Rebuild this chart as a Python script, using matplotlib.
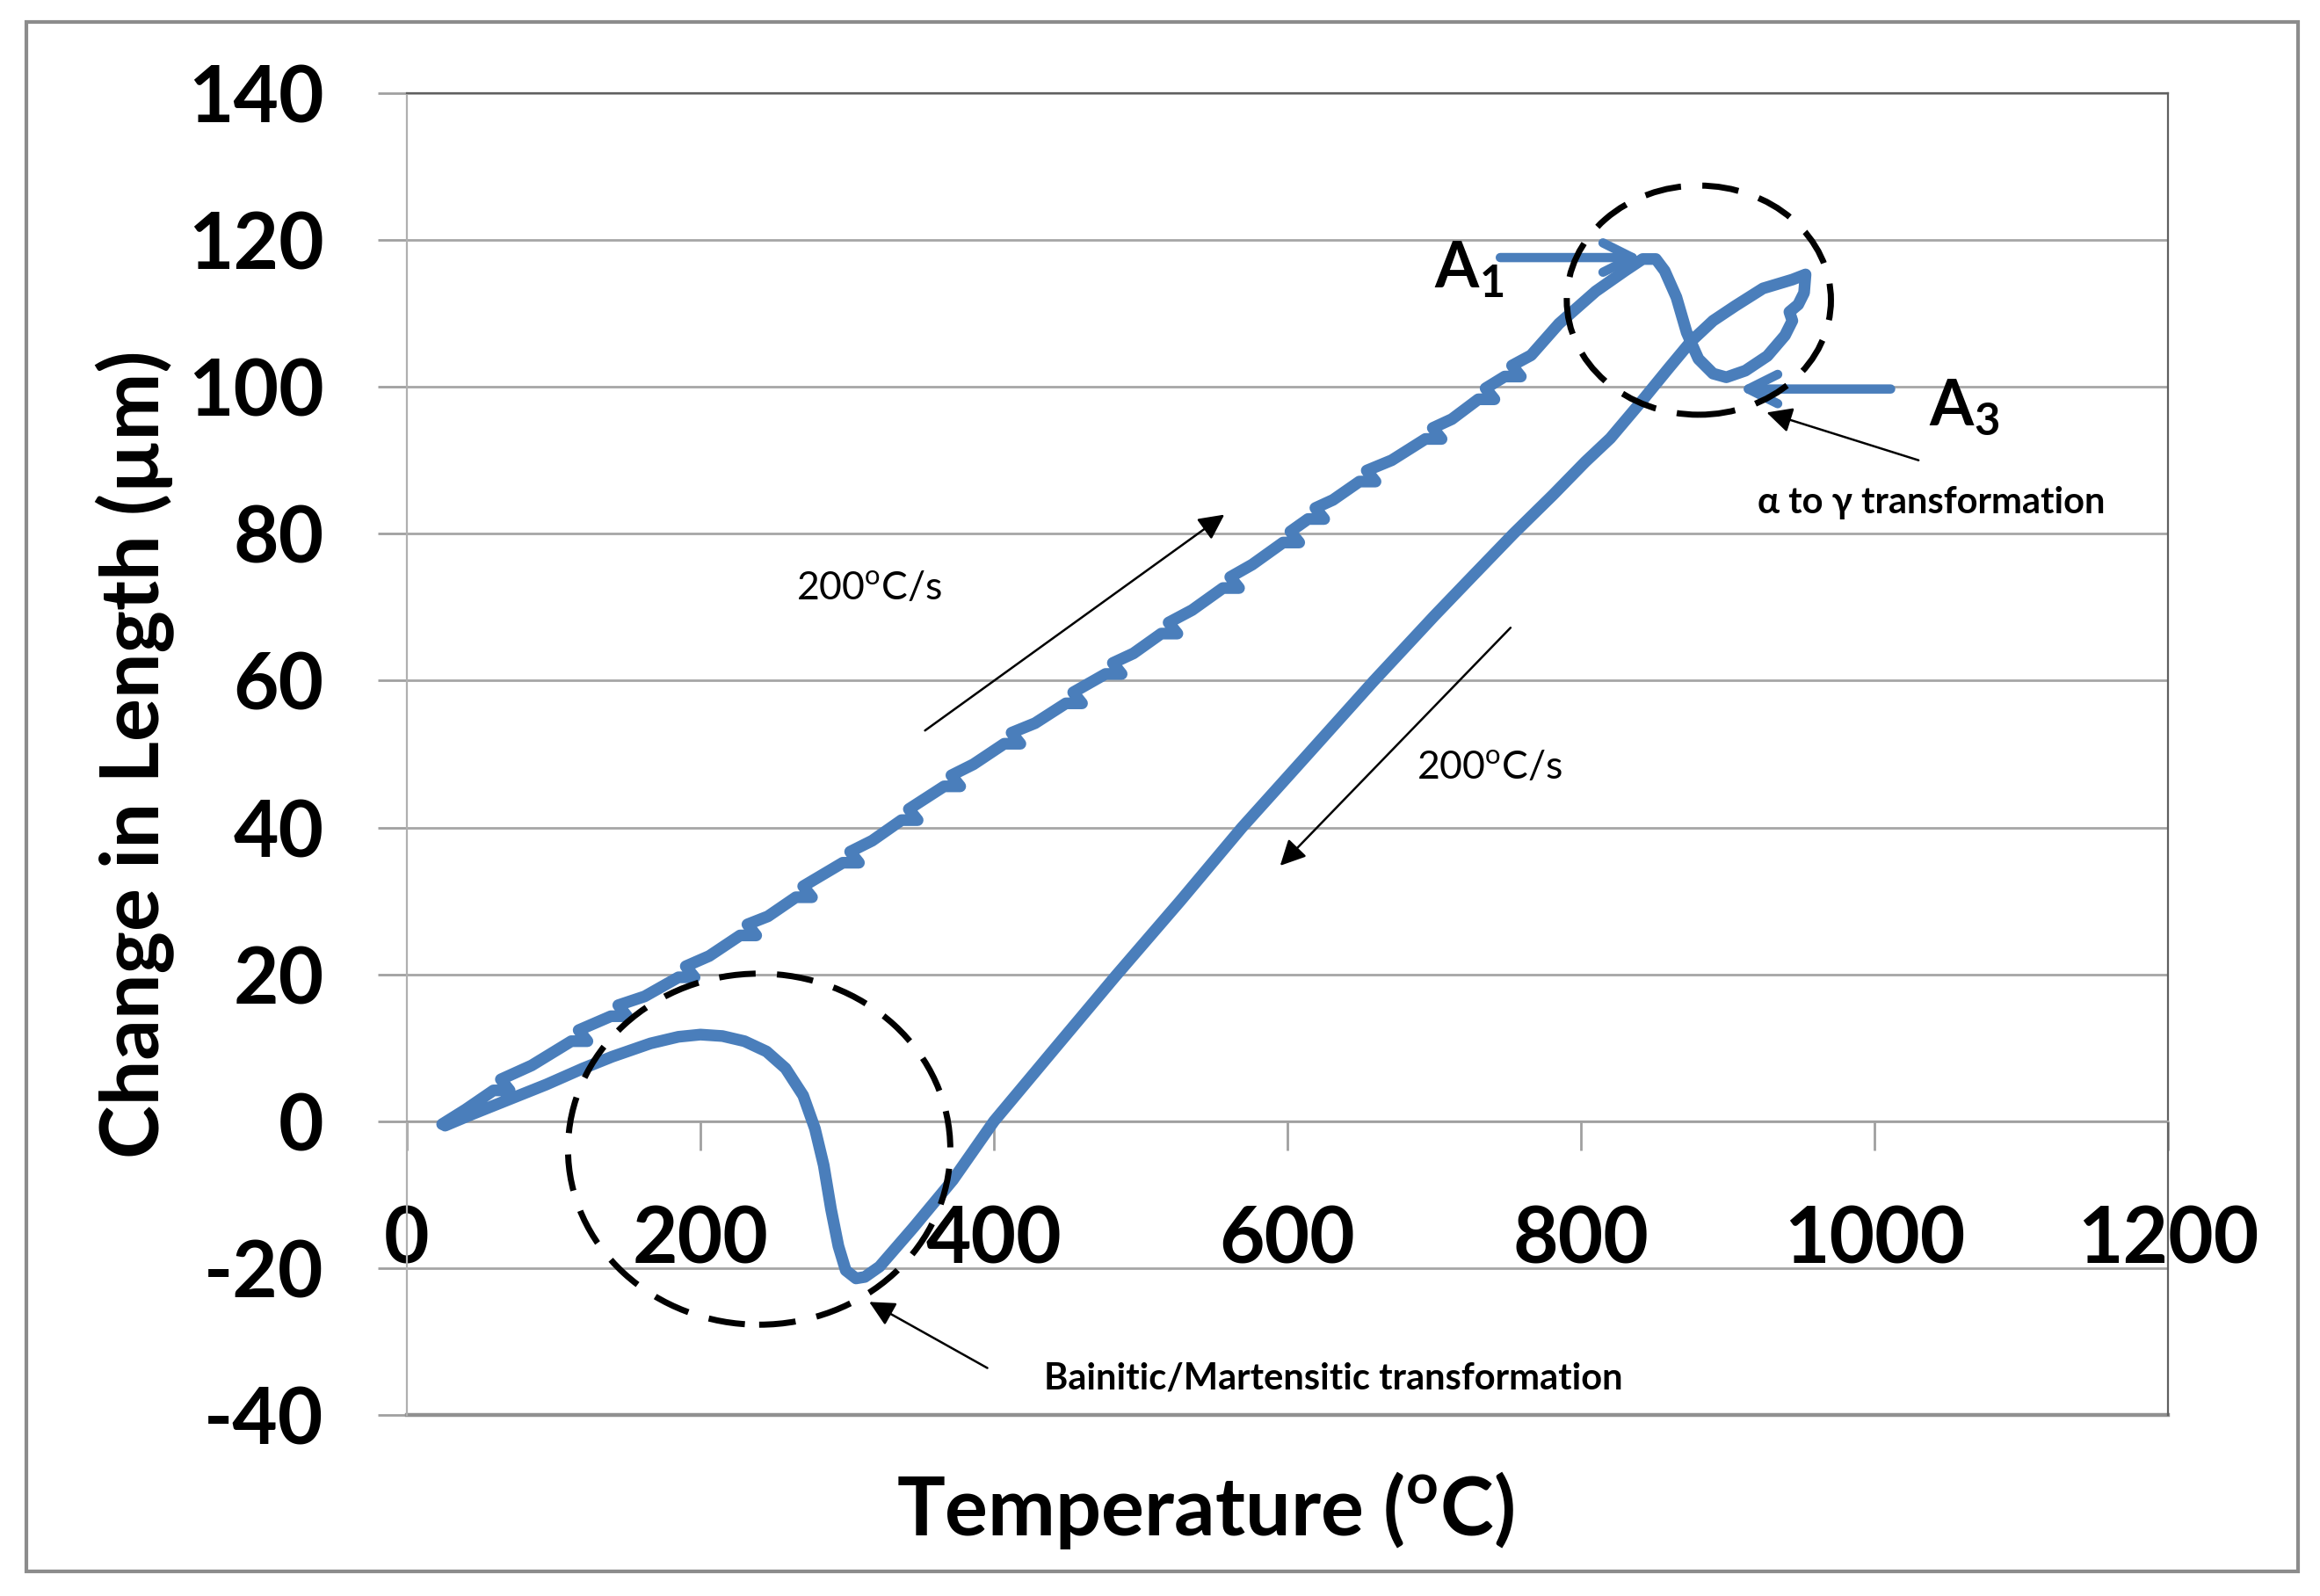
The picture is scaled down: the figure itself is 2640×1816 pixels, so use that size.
import matplotlib.pyplot as plt
from matplotlib.patches import Ellipse, Rectangle

plt.rcParams['font.family'] = ['Lato', 'DejaVu Sans']
plt.rcParams['mathtext.fontset'] = 'custom'
plt.rcParams['mathtext.rm'] = 'Lato'
plt.rcParams['mathtext.bf'] = 'Lato:bold'
plt.rcParams['axes.unicode_minus'] = False

# heating branch (with the small jogs of the signal)
heat_temp = [24, 40, 59, 70, 64, 85, 112, 123, 117, 139, 150, 144, 162,
             185, 196, 190, 206, 227, 238, 232, 246, 265, 276, 270,
             297, 308, 302, 317, 337, 348, 342, 366, 377, 371, 386,
             407, 418, 412, 428, 449, 460, 454, 476, 487, 481, 495,
             514, 525, 519, 535, 556, 567, 561, 576, 597, 608, 602,
             614, 625, 619, 631, 649, 660, 654, 671, 694, 705, 699,
             712, 730, 741, 735, 748, 759, 753, 766, 785, 810, 830,
             842, 851, 857, 865, 872, 880, 890, 899, 912, 927, 939,
             944, 942, 948, 952, 953]
heat_len = [-0.4, 1.6, 4.2, 4.2, 5.7, 7.6, 10.9, 10.9, 12.4, 14.3, 14.3, 15.8, 17.0,
            19.6, 19.6, 21.1, 22.5, 25.3, 25.3, 26.8, 27.9, 30.5, 30.5, 32.0,
            35.2, 35.2, 36.7, 38.2, 41.0, 41.0, 42.5, 45.6, 45.6, 47.1, 48.6,
            51.4, 51.4, 52.9, 54.2, 56.9, 56.9, 58.4, 60.9, 60.9, 62.4, 63.7,
            66.4, 66.4, 67.9, 69.6, 72.6, 72.6, 74.1, 75.8, 78.8, 78.8, 80.3,
            82.0, 82.0, 83.5, 84.6, 87.1, 87.1, 88.6, 90.0, 92.9, 92.9, 94.4,
            95.6, 98.3, 98.3, 99.8, 101.4, 101.4, 102.9, 104.3, 108.6, 113.0, 115.8,
            117.4, 117.4, 115.8, 112.2, 107.4, 103.8, 101.8, 101.3, 102.2, 104.2, 107.0,
            109.0, 110.2, 111.2, 112.8, 115.3]

# cooling branch
cool_temp = [944, 924, 905, 890, 875, 860, 842, 820, 803, 781, 754, 725,
             700, 680, 659, 610, 569, 527, 483, 441, 400, 372, 345, 322,
             312, 306, 299, 294, 289, 284, 278, 270, 258, 245, 230, 215,
             200, 185, 166, 140, 120, 95, 70, 45, 26]
cool_len = [114.6, 113.4, 111.0, 109.0, 106.2, 102.6, 98.2, 93.0, 89.8, 85.3, 80.0, 74.0,
            68.8, 64.5, 60.0, 49.1, 40.0, 30.0, 19.8, 9.8, 0.0, -8.0, -14.5, -19.8,
            -21.2, -21.4, -20.3, -17.0, -12.0, -6.0, -1.0, 3.5, 7.2, 9.5, 10.9, 11.6,
            11.8, 11.5, 10.6, 8.8, 7.2, 5.0, 3.0, 1.0, -0.6]

x_ticks = [0, 200, 400, 600, 800, 1000, 1200]
y_ticks = [-40, -20, 0, 20, 40, 60, 80, 100, 120, 140]

blue = '#4a7ebb'
grid_grey = '#a6a6a6'

fig = plt.figure(figsize=(13.2, 9.08), dpi=200)
ax = fig.add_axes([0.1754, 0.1134, 0.7591, 0.8283])

ax.plot(heat_temp + cool_temp, heat_len + cool_len, color=blue, lw=4.8,
        solid_joinstyle='round', solid_capstyle='round', zorder=3)

ax.set_xlim(0, 1200)
ax.set_ylim(-40, 140)
ax.set_xticks(x_ticks)
ax.set_yticks(y_ticks)
ax.yaxis.grid(True, color=grid_grey, lw=1.0)
ax.set_axisbelow(True)

# Excel style: x axis crosses at y = 0
ax.spines['bottom'].set_position(('data', 0))
ax.spines['bottom'].set_color('#a0a0a0')
ax.spines['left'].set_color('#b0b0b0')
ax.spines['top'].set_color('#606060')
ax.spines['right'].set_color('#606060')
ax.axhline(-40, color='#909090', lw=1.6, clip_on=False, zorder=2)

ax.tick_params(axis='both', direction='out', length=12, width=1.0,
               color='#a0a0a0', pad=22, labelsize=32)
for lbl in ax.get_xticklabels() + ax.get_yticklabels():
    lbl.set_fontweight('bold')

ax.set_xlabel('Temperature ($^{\\mathbf{o}}$C)', fontsize=33, fontweight='bold', va='center')
ax.xaxis.set_label_coords(0.4536, -0.072)
ax.set_ylabel('Change in Length (µm)', fontsize=33, fontweight='bold', va='center')
ax.yaxis.set_label_coords(-0.154, 0.5)

# annotations
thin = dict(arrowstyle='-|>', color='black', lw=0.9, mutation_scale=22,
            shrinkA=0, shrinkB=0)
ax.text(315, 72.6, '200$^{\\mathrm{o}}$C/s', fontsize=16, ha='center', va='center')
ax.annotate('', xy=(557, 82.6), xytext=(353, 53.2), arrowprops=thin)
ax.text(738, 48.2, '200$^{\\mathrm{o}}$C/s', fontsize=16, ha='center', va='center')
ax.annotate('', xy=(595, 34.8), xytext=(752, 67.2), arrowprops=thin)

ax.text(1039, 84.2, 'α to γ transformation', fontsize=15, fontweight='bold',
        ha='center', va='center')
ax.annotate('', xy=(926.5, 96.5), xytext=(1030, 90.0), arrowprops=thin)
ax.text(631, -35, 'Bainitic/Martensitic transformation', fontsize=15,
        fontweight='bold', ha='center', va='center')
ax.annotate('', xy=(315, -24.6), xytext=(395.5, -33.6), arrowprops=thin)

thick = dict(arrowstyle='->', color=blue, lw=3.8, mutation_scale=30,
             shrinkA=0, shrinkB=0)
ax.text(700, 116, 'A$_{\\mathbf{1}}$', fontsize=26, fontweight='bold', ha='left', va='center')
ax.annotate('', xy=(842, 117.6), xytext=(745, 117.6), arrowprops=thick)
ax.text(1037, 97.3, 'A$_{\\mathbf{3}}$', fontsize=26, fontweight='bold', ha='left', va='center')
ax.annotate('', xy=(907, 99.7), xytext=(1011, 99.7), arrowprops=thick)

for (cx, cy), w, h in [((240, -3.8), 260.5, 47.8), ((880.3, 111.8), 180, 31.2)]:
    ax.add_patch(Ellipse((cx, cy), w, h, fill=False, ls=(0, (6, 3.5)), lw=2.5,
                         edgecolor='black', clip_on=False, zorder=4))

fig.add_artist(Rectangle((0.0114, 0.0154), 0.9791, 0.9708, transform=fig.transFigure,
                         fill=False, edgecolor='#8c8c8c', lw=1.5))

fig.savefig('out.png', dpi=200)
